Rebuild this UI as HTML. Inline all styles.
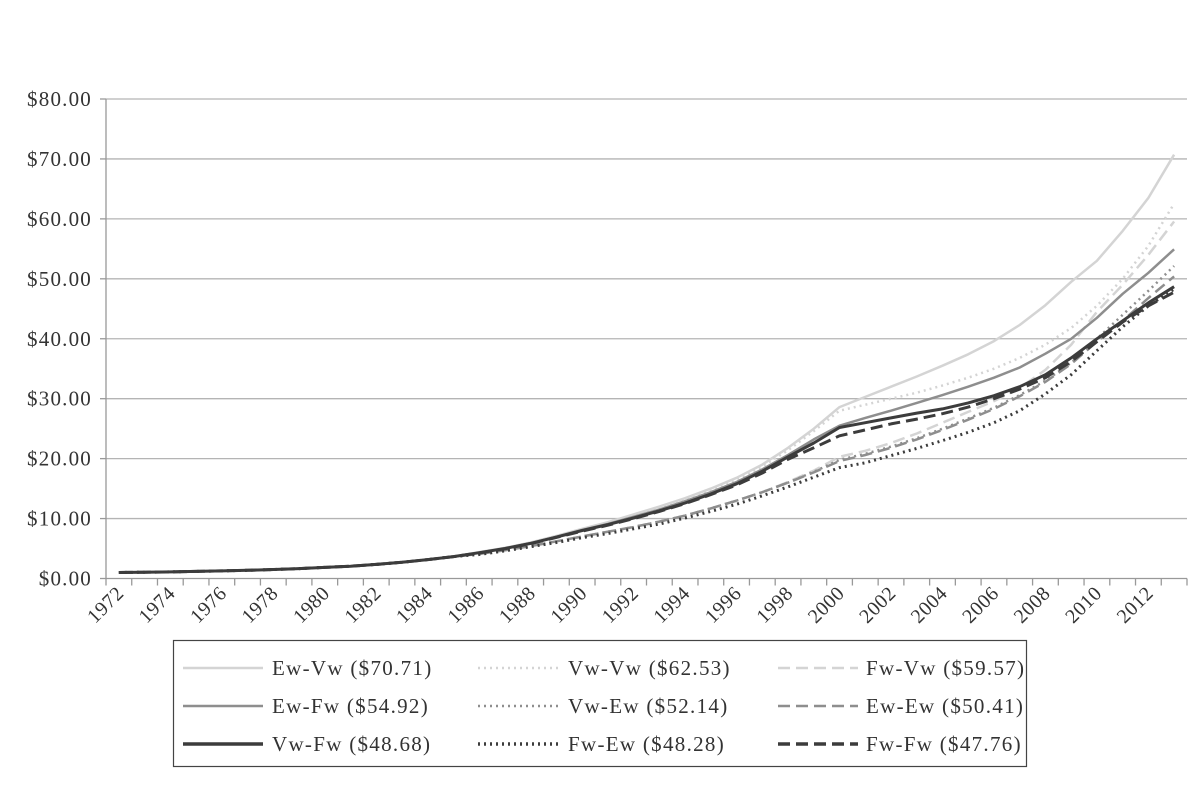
<!DOCTYPE html>
<html><head><meta charset="utf-8"><style>
body{margin:0;background:#fff;}
svg text{font-family:"Liberation Serif",serif;fill:#333;}
</style></head><body>
<svg id="chart" width="1197" height="780" xmlns="http://www.w3.org/2000/svg"></svg>
<script>
const years = [];
for (let y = 1972; y <= 2013; y++) years.push(y);
const yTicks = [0,10,20,30,40,50,60,70,80];
const early = [1.0,1.05,1.1,1.18,1.27,1.37,1.5,1.65,1.85,2.05,2.35,2.7,3.15,3.65];
const ewVw = early.concat([4.4,5.1,6.0,7.1,8.3,9.4,10.7,12.0,13.4,15.0,16.8,19.0,21.8,25.0,28.6,30.3,32.0,33.7,35.5,37.4,39.6,42.3,45.6,49.5,53.0,58.0,63.5,70.71]);
const vwVw = early.concat([4.35,5.05,5.95,7.0,8.2,9.3,10.5,11.8,13.2,14.8,16.5,18.7,21.4,24.6,28.0,29.0,30.0,31.0,32.2,33.5,35.0,36.8,39.0,41.8,45.5,50.0,55.5,62.53]);
const fwVw = early.concat([4.1,4.7,5.4,6.2,7.0,7.8,8.6,9.5,10.5,11.7,13.0,14.4,16.1,18.0,20.3,21.3,22.6,24.2,26.0,27.8,29.6,31.8,34.8,39.0,44.5,49.0,54.0,59.57]);
const ewFw = early.concat([4.3,5.0,5.9,6.95,8.1,9.1,10.3,11.5,12.9,14.4,16.1,18.2,20.6,23.2,25.5,26.8,28.0,29.3,30.6,32.0,33.5,35.2,37.5,40.0,43.5,47.5,51.0,54.92]);
const vwEw = early.concat([4.1,4.7,5.4,6.2,7.0,7.8,8.6,9.5,10.5,11.7,13.0,14.4,16.0,17.8,19.8,20.8,22.0,23.4,25.0,26.7,28.5,30.6,33.0,36.0,40.0,44.0,48.0,52.14]);
const ewEw = early.concat([4.1,4.7,5.4,6.2,7.0,7.8,8.6,9.5,10.5,11.7,13.0,14.4,16.0,17.7,19.6,20.6,21.8,23.2,24.8,26.5,28.3,30.4,32.8,35.8,39.5,43.0,46.8,50.41]);
const vwFw = early.concat([4.3,5.0,5.85,6.9,8.0,9.0,10.1,11.3,12.6,14.1,15.8,17.9,20.3,22.6,25.2,26.0,26.8,27.6,28.3,29.3,30.5,32.0,34.0,36.8,40.0,43.0,46.0,48.68]);
const fwEw = early.concat([4.0,4.6,5.3,6.0,6.8,7.5,8.3,9.1,10.1,11.2,12.4,13.8,15.3,16.9,18.5,19.3,20.5,21.7,23.0,24.4,26.0,28.0,30.8,34.0,38.0,42.0,45.5,48.28]);
const fwFw = early.concat([4.25,4.95,5.8,6.85,7.9,8.9,10.0,11.2,12.5,14.0,15.6,17.6,19.9,21.8,23.8,24.8,25.8,26.6,27.5,28.6,30.0,31.6,33.5,36.2,39.5,42.8,45.5,47.76]);
const seriesNames = ["Ew-Vw ($70.71)","Vw-Vw ($62.53)","Fw-Vw ($59.57)","Ew-Fw ($54.92)","Vw-Ew ($52.14)","Ew-Ew ($50.41)","Vw-Fw ($48.68)","Fw-Ew ($48.28)","Fw-Fw ($47.76)"];
const seriesData = [ewVw,vwVw,fwVw,ewFw,vwEw,ewEw,vwFw,fwEw,fwFw];
const styles = [
 {c:"#d4d4d4",d:""},{c:"#d4d4d4",d:"2,4"},{c:"#d4d4d4",d:"12,6"},
 {c:"#8e8e8e",d:""},{c:"#8e8e8e",d:"2,4"},{c:"#8e8e8e",d:"12,6"},
 {c:"#3c3c3c",d:""},{c:"#3c3c3c",d:"2,4"},{c:"#3c3c3c",d:"12,6"}];

const NS="http://www.w3.org/2000/svg";
const svg=document.getElementById('chart');
const L=106,R=1187,T=99,B=578.5;
const step=(R-L)/years.length;
const xs=i=>L+step*(i+0.5);
const ys=v=>B-(v/80)*(B-T);
function mk(tag,attrs,parent){const e=document.createElementNS(NS,tag);for(const k in attrs)e.setAttribute(k,attrs[k]);(parent||svg).appendChild(e);return e;}

yTicks.forEach(v=>{
  const g=mk('line',{x1:L,x2:R,y1:ys(v),y2:ys(v),stroke:v===0?'#999':'#b4b4b4','stroke-width':1.3});
  
  
  mk('line',{x1:L-6,x2:L,y1:ys(v),y2:ys(v),stroke:'#999','stroke-width':1.3});
  const t=mk('text',{x:92,y:ys(v)+7,'text-anchor':'end','font-size':21,'letter-spacing':1.2});
  t.textContent='$'+v.toFixed(2);
  
  
});
const ax=mk('line',{x1:L,x2:L,y1:T,y2:B,stroke:'#999','stroke-width':1.3});


for(let i=0;i<=years.length;i++){
  mk('line',{x1:L+step*i,x2:L+step*i,y1:B,y2:B+7,stroke:'#999','stroke-width':1.3});
}
years.forEach((yr,i)=>{
  if(yr%2!==0)return;
  const x=xs(i)+6,y=B+16;
  const t=mk('text',{x:x,y:y,'text-anchor':'end','font-size':20,'letter-spacing':0.5,transform:`rotate(-45 ${x} ${y})`});
  t.textContent=yr;
  
  
});
seriesData.forEach((d,si)=>{
  const pts=d.map((v,i)=>xs(i).toFixed(1)+','+ys(v).toFixed(1)).join(' ');
  const p=mk('polyline',{points:pts,fill:'none',stroke:styles[si].c,'stroke-width':si>=6?3:2.5,'stroke-dasharray':styles[si].d,'stroke-linejoin':'round'});
  
  
});
const lg=mk('rect',{x:173.5,y:640.5,width:853,height:126,fill:'#fff',stroke:'#444','stroke-width':1.2});


const colLine=[183,478,778], colText=[272,568,866], rowY=[668,706,744];
seriesNames.forEach((n,i)=>{
  const c=i%3,r=Math.floor(i/3);
  mk('line',{x1:colLine[c],x2:colLine[c]+80,y1:rowY[r],y2:rowY[r],stroke:styles[i].c,'stroke-width':r===2?3.5:2.5,'stroke-dasharray':styles[i].d});
  const t=mk('text',{x:colText[c],y:rowY[r]+7,'font-size':21,'letter-spacing':1.3});
  t.textContent=n;
  
  
});
</script>
</body></html>
